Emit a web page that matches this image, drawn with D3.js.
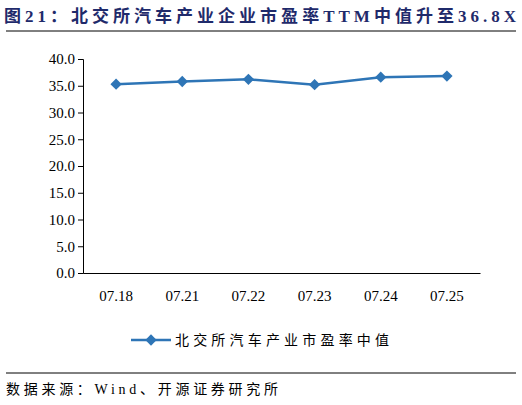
<html>
<head>
<script src="https://d3js.org/d3.v7.min.js"></script>
<style>
  body { margin: 0; background: #fff; }
  text { font-family: "Liberation Serif", "Noto Sans CJK SC", serif; }
</style>
</head>
<body>
<svg id="chart" width="522" height="405"></svg>
<script>
const categories = ["07.18", "07.21", "07.22", "07.23", "07.24", "07.25"];
const peMedian = [35.3, 35.8, 36.2, 35.2, 36.6, 36.8];
const yTicks = [0, 5, 10, 15, 20, 25, 30, 35, 40];

const svg = d3.select("#chart");
const navy = "#1f2a6b";
const blue = "#2e75b6";

svg.append("text").attr("x", 4).attr("y", 22)
  .attr("fill", navy).style("font-size", "17px").style("font-weight", "bold")
  .attr("textLength", 512).attr("lengthAdjust", "spacing")
  .text("图21：北交所汽车产业企业市盈率TTM中值升至36.8X");
svg.append("line").attr("x1", 6).attr("x2", 516).attr("y1", 31).attr("y2", 31)
  .attr("stroke", "#000").attr("stroke-width", 1);

const x = d3.scaleBand().domain(categories).range([83, 480]);
const y = d3.scaleLinear().domain([0, 40]).range([273, 59]);

const yAxis = svg.append("g").attr("transform", "translate(83,0)")
  .call(d3.axisLeft(y).tickValues(yTicks).tickFormat(d3.format(".1f")).tickSize(5));
yAxis.selectAll("text").style("font-size", "15px").attr("fill", "#000");

const xAxis = svg.append("g").attr("transform", "translate(0,273)")
  .call(d3.axisBottom(x).tickSize(0).tickPadding(17));
xAxis.selectAll("text").style("font-size", "15px").attr("fill", "#000");
svg.selectAll(".domain").attr("stroke", "#000");
svg.selectAll(".tick line").attr("stroke", "#000");

const cx = d => x(d) + x.bandwidth() / 2;
const line = d3.line().x((d, i) => cx(categories[i])).y(d => y(d));
svg.append("path").datum(peMedian).attr("d", line)
  .attr("fill", "none").attr("stroke", blue).attr("stroke-width", 2.5);
svg.selectAll("rect.pt").data(peMedian).join("rect").attr("class", "pt")
  .attr("x", (d, i) => cx(categories[i]) - 4).attr("y", d => y(d) - 4)
  .attr("width", 8).attr("height", 8).attr("fill", blue)
  .attr("transform", (d, i) => `rotate(45,${cx(categories[i])},${y(d)})`);

// legend
svg.append("line").attr("x1", 131).attr("x2", 171).attr("y1", 340).attr("y2", 340)
  .attr("stroke", blue).attr("stroke-width", 2.5);
svg.append("rect").attr("x", 147).attr("y", 336).attr("width", 8).attr("height", 8)
  .attr("fill", blue).attr("transform", "rotate(45,151,340)");
svg.append("text").attr("x", 175).attr("y", 345).style("font-size", "14px")
  .attr("textLength", 214).attr("lengthAdjust", "spacing")
  .text("北交所汽车产业市盈率中值");

svg.append("line").attr("x1", 6).attr("x2", 516).attr("y1", 373).attr("y2", 373)
  .attr("stroke", "#000").attr("stroke-width", 1);
svg.append("text").attr("x", 6).attr("y", 394).style("font-size", "14px")
  .attr("textLength", 272).attr("lengthAdjust", "spacing")
  .text("数据来源：Wind、开源证券研究所");
</script>
</body>
</html>
